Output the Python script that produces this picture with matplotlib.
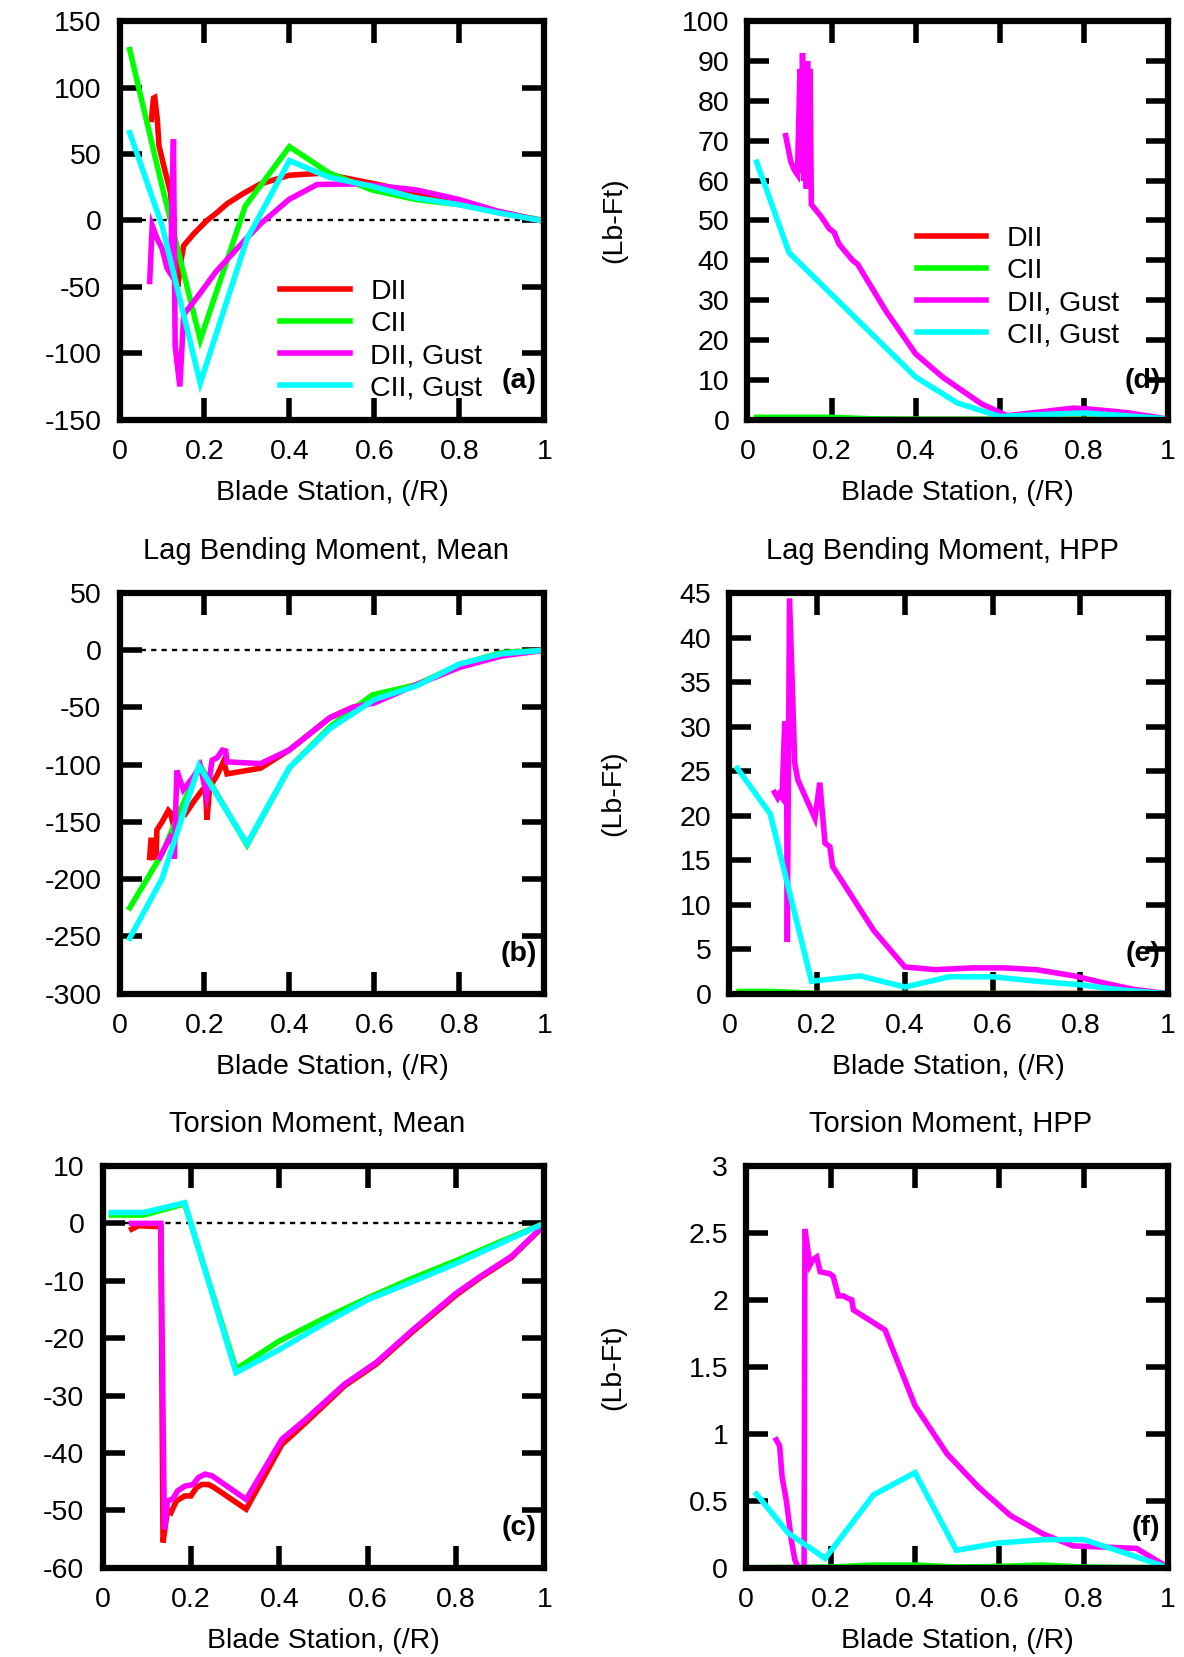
import matplotlib
matplotlib.use("Agg")
import matplotlib.pyplot as plt
from matplotlib.ticker import FuncFormatter

plt.rcParams['font.family'] = ['Liberation Sans', 'DejaVu Sans']
plt.rcParams['axes.unicode_minus'] = False

FS = 20.5
LW = 4.0
C_DII, C_CII, C_DIIG, C_CIIG = "#ff0000", "#00ff00", "#ff00ff", "#00ffff"
labels = ["DII", "CII", "DII, Gust", "CII, Gust"]

# =========================
# (a) flap bending moment, mean
# =========================
a_x_dii = [0.075, 0.080, 0.083, 0.089, 0.093, 0.105, 0.12, 0.13, 0.137, 0.145, 0.151, 0.175,
           0.206, 0.230, 0.253, 0.29, 0.332, 0.40, 0.475, 0.593, 0.697, 0.796, 0.89, 0.99]
a_y_dii = [76, 92, 92.5, 76, 56, 40, 21, -20, -50, -30, -19, -10,
           0, 6, 12.5, 20, 27.5, 34, 35.5, 28, 21, 13, 6, 0]
a_x_cii = [0.024, 0.10, 0.19, 0.296, 0.40, 0.493, 0.593, 0.697, 0.796, 0.89, 0.99]
a_y_cii = [128.5, 26, -90, 10.75, 55.5, 35.75, 23, 15.75, 12, 6.5, 0.5]
a_x_diig = [0.071, 0.077, 0.089, 0.10, 0.112, 0.12, 0.127, 0.131, 0.142, 0.151, 0.187,
            0.226, 0.28, 0.332, 0.40, 0.465, 0.566, 0.697, 0.796, 0.89, 0.99]
a_y_diig = [-46, -4, -14, -21, -36, -40, 61, -95, -125, -71, -56,
            -39, -20, -2.5, 16, 27, 27.5, 23, 16, 7, 0]
a_x_ciig = [0.024, 0.10, 0.19, 0.30, 0.40, 0.493, 0.593, 0.697, 0.796, 0.89, 0.99]
a_y_ciig = [66, -3.75, -122.5, -14, 45, 32.5, 25.75, 17, 12, 5.75, 0]

# =========================
# (b) lag bending moment, mean
# =========================
b_x_dii = [0.071, 0.074, 0.078, 0.080, 0.086, 0.088, 0.10, 0.115, 0.12, 0.125, 0.14, 0.155,
           0.175, 0.195, 0.202, 0.206, 0.212, 0.23, 0.245, 0.253, 0.332, 0.40, 0.495,
           0.548, 0.60, 0.70, 0.80, 0.90, 1.0]
b_y_dii = [-181, -166, -166, -181, -181, -157, -150, -140, -142, -150, -140, -143,
           -132, -122, -120, -148, -120, -109, -97, -108, -103, -87, -59,
           -50, -44, -30, -14, -4, 0]
b_x_cii = [0.024, 0.10, 0.151, 0.189, 0.30, 0.40, 0.495, 0.595, 0.70, 0.80, 0.90, 1.0]
b_y_cii = [-225, -178, -133, -100.4, -170, -102.5, -67, -39, -30, -12.5, -2, 0]
b_x_diig = [0.095, 0.11, 0.12, 0.125, 0.129, 0.135, 0.15, 0.175, 0.19, 0.205, 0.218,
            0.23, 0.242, 0.25, 0.253, 0.332, 0.40, 0.495, 0.548, 0.60, 0.70, 0.80, 0.90, 1.0]
b_y_diig = [-181, -170, -163, -165, -182, -105, -122, -110, -101, -127, -96,
            -93.8, -87.3, -88, -97.5, -99, -87, -59, -50, -46, -30, -15, -5, 0]
b_x_ciig = [0.024, 0.10, 0.187, 0.30, 0.40, 0.495, 0.60, 0.70, 0.80, 0.90, 1.0]
b_y_ciig = [-251.5, -199.6, -101, -169, -102.5, -68.5, -43, -31, -12, -3, 0]

# =========================
# (c) torsion moment, mean
# =========================
c_x_dii = [0.066, 0.082, 0.132, 0.137, 0.147, 0.155, 0.167, 0.186, 0.20, 0.213, 0.225, 0.24,
           0.252, 0.325, 0.406, 0.456, 0.548, 0.62, 0.70, 0.80, 0.852, 0.926, 1.0]
c_y_dii = [-1, -0.4, -0.6, -55.6, -50, -50.4, -48.4, -47.5, -47.5, -46, -45.5, -45.5,
           -46, -49.8, -38.5, -35, -28.3, -24.5, -19, -12.5, -9.6, -5.9, -0.3]
c_x_cii = [0.02, 0.093, 0.186, 0.302, 0.40, 0.50, 0.60, 0.70, 0.80, 0.90, 1.0]
c_y_cii = [1.45, 1.45, 3.4, -25.4, -20.5, -16.6, -13, -9.6, -6.5, -3.2, 0]
c_x_diig = [0.066, 0.132, 0.14, 0.147, 0.159, 0.17, 0.186, 0.205, 0.217, 0.232, 0.248,
            0.325, 0.406, 0.456, 0.548, 0.62, 0.70, 0.80, 0.852, 0.926, 1.0]
c_y_diig = [0, 0, -53.3, -48.4, -48, -46.6, -45.8, -45.5, -44.3, -43.7, -44,
            -48.1, -37.6, -34.4, -28, -24.2, -18.7, -12.2, -9.4, -5.7, -0.3]
c_x_ciig = [0.02, 0.093, 0.186, 0.302, 0.40, 0.50, 0.60, 0.70, 0.80, 0.90, 1.0]
c_y_ciig = [1.9, 1.9, 3.6, -26, -22, -17.5, -13.3, -10.2, -7, -3.5, 0]

# =========================
# (d) flap bending moment, HPP
# =========================
d_x_dii = [0.022, 0.2, 0.4, 0.6, 0.8, 1.0]
d_y_dii = [0.1, 0.1, 0.05, 0.05, 0.05, 0]
d_x_cii = [0.022, 0.1, 0.2, 0.3, 0.4, 0.6, 0.8, 1.0]
d_y_cii = [0.6, 0.6, 0.6, 0.2, 0.15, 0.1, 0.1, 0]
d_x_diig = [0.091, 0.103, 0.111, 0.119, 0.125, 0.128, 0.131, 0.134, 0.137, 0.140, 0.143,
            0.146, 0.149, 0.152, 0.175, 0.194, 0.206, 0.218, 0.25, 0.262, 0.329, 0.40,
            0.464, 0.556, 0.617, 0.70, 0.774, 0.80, 0.90, 0.997]
d_y_diig = [71.25, 64.8, 62.75, 61.5, 88, 62, 92, 60, 89, 58, 90,
            58, 88, 54, 51, 48, 47, 44, 40, 39, 27.3, 16.5,
            10.7, 4, 1, 2, 2.9, 2.8, 1.8, 0.2]
d_x_ciig = [0.022, 0.099, 0.40, 0.499, 0.60, 0.70, 0.80, 0.90, 0.997]
d_y_ciig = [64.6, 41.9, 10.7, 4.2, 0.8, 1.3, 1.7, 1.0, 0.2]

# =========================
# (e) lag bending moment, HPP
# =========================
e_x_dii = [0.022, 0.2, 0.4, 0.6, 0.8, 1.0]
e_y_dii = [0.02, 0.02, 0.02, 0.02, 0.02, 0]
e_x_cii = [0.022, 0.1, 0.2, 0.4, 0.6, 1.0]
e_y_cii = [0.25, 0.25, 0.02, 0.02, 0.02, 0]
e_x_diig = [0.103, 0.11, 0.114, 0.12, 0.126, 0.13, 0.132, 0.137, 0.149, 0.156, 0.195, 0.206,
            0.218, 0.229, 0.235, 0.329, 0.40, 0.47, 0.556, 0.624, 0.70, 0.786, 0.854, 0.92, 1.0]
e_y_diig = [22.6, 22, 22.4, 22, 30.3, 30.3, 5.8, 44.4, 25.9, 24, 19.7, 23.7,
            16.9, 16.5, 14.3, 7.1, 3.0, 2.7, 2.9, 2.9, 2.7, 2.0, 1.2, 0.5, 0]
e_x_ciig = [0.018, 0.093, 0.187, 0.298, 0.40, 0.501, 0.60, 0.70, 0.80, 0.896, 1.0]
e_y_ciig = [25.3, 20.2, 1.4, 2.0, 0.75, 1.9, 1.9, 1.4, 1.0, 0.4, 0]

# =========================
# (f) torsion moment, HPP
# =========================
f_x_dii = [0.07, 0.2, 0.4, 0.6, 0.8, 1.0]
f_y_dii = [0, 0, 0, 0, 0, 0]
f_x_cii = [0.022, 0.2, 0.3, 0.4, 0.5, 0.6, 0.7, 0.8, 1.0]
f_y_cii = [0.0, 0.005, 0.02, 0.02, 0.005, 0.01, 0.02, 0.005, 0]
f_x_diig = [0.071, 0.079, 0.085, 0.095, 0.107, 0.115, 0.123, 0.137, 0.139, 0.151, 0.158,
            0.167, 0.175, 0.198, 0.206, 0.218, 0.23, 0.242, 0.25, 0.254, 0.329, 0.40,
            0.476, 0.551, 0.626, 0.705, 0.775, 0.925, 0.996]
f_y_diig = [0.955, 0.91, 0.675, 0.5, 0.2, 0.06, 0.0, 0.0, 2.53, 2.26, 2.3,
            2.32, 2.21, 2.195, 2.175, 2.03, 2.03, 2.01, 2.0, 1.925, 1.775, 1.21,
            0.85, 0.6, 0.39, 0.25, 0.163, 0.144, 0.01]
f_x_ciig = [0.024, 0.099, 0.187, 0.302, 0.40, 0.498, 0.60, 0.705, 0.80, 0.907, 0.995]
f_y_ciig = [0.55, 0.26, 0.07, 0.545, 0.71, 0.13, 0.185, 0.21, 0.21, 0.1, 0.005]

W, H = 1184, 1657
fig = plt.figure(figsize=(W / 100, H / 100), dpi=100)


def box(left, right, top, bottom):
    return [left / W, 1 - bottom / H, (right - left) / W, (bottom - top) / H]


fmt = FuncFormatter(lambda v, p: "%g" % v)


def panel(rect, data, ylim, yticks, tag, title=None, zero=False, ylab_x=-0.285):
    ax = fig.add_axes(rect)
    cols = [C_DII, C_CII, C_DIIG, C_CIIG]
    for (x, y), c, lab in zip(data, cols, labels):
        ax.plot(x, y, color=c, lw=LW, label=lab, solid_joinstyle="miter")
    if zero:
        ax.axhline(0, color="black", lw=1.7, ls=(0, (2.2, 2.2)), zorder=1)
    ax.set_xlim(0, 1)
    ax.set_ylim(*ylim)
    ax.set_xticks([0, 0.2, 0.4, 0.6, 0.8, 1.0])
    ax.set_yticks(yticks)
    ax.xaxis.set_major_formatter(fmt)
    ax.yaxis.set_major_formatter(fmt)
    ax.tick_params(direction="in", length=16, width=4, top=True, right=True,
                   labelsize=FS)
    ax.tick_params(axis="x", pad=14)
    ax.tick_params(axis="y", pad=13)
    for s in ax.spines.values():
        s.set_linewidth(4.5)
    ax.set_xlabel("Blade Station, (/R)", fontsize=FS, labelpad=11)
    ax.set_ylabel("(Lb-Ft)", fontsize=FS)
    ax.yaxis.set_label_coords(ylab_x, 0.5)
    if title:
        ax.set_title(title, fontsize=FS + 0.5, x=0.485, y=1.104, va="center", pad=0)
    ax.text(0.982, 0.098, tag, transform=ax.transAxes, ha="right", va="center",
            fontsize=FS, fontweight="bold")
    return ax


leg_kw = dict(loc="upper left", frameon=False, fontsize=FS, handlelength=2.45,
              handletextpad=0.72, labelspacing=0.22, borderpad=0, borderaxespad=0)

ax_a = panel(box(119.5, 544.4, 21.1, 419.7),
             [(a_x_dii, a_y_dii), (a_x_cii, a_y_cii), (a_x_diig, a_y_diig), (a_x_ciig, a_y_ciig)],
             (-150, 150), range(-150, 151, 50), "(a)", zero=True)
ax_a.legend(bbox_to_anchor=(0.378, 0.354), **leg_kw)

ax_d = panel(box(747.4, 1168.1, 21.1, 419.7),
             [(d_x_dii, d_y_dii), (d_x_cii, d_y_cii), (d_x_diig, d_y_diig), (d_x_ciig, d_y_ciig)],
             (0, 100), range(0, 101, 10), "(d)")
ax_d.legend(bbox_to_anchor=(0.402, 0.487), **leg_kw)

panel(box(119.5, 544.4, 593.0, 993.7),
      [(b_x_dii, b_y_dii), (b_x_cii, b_y_cii), (b_x_diig, b_y_diig), (b_x_ciig, b_y_ciig)],
      (-300, 50), range(-300, 51, 50), "(b)", title="Lag Bending Moment, Mean", zero=True)

panel(box(729.4, 1168.1, 593.0, 993.7),
      [(e_x_dii, e_y_dii), (e_x_cii, e_y_cii), (e_x_diig, e_y_diig), (e_x_ciig, e_y_ciig)],
      (0, 45), range(0, 46, 5), "(e)", title="Lag Bending Moment, HPP", ylab_x=-0.236)

panel(box(102.5, 544.4, 1166.0, 1567.7),
      [(c_x_dii, c_y_dii), (c_x_cii, c_y_cii), (c_x_diig, c_y_diig), (c_x_ciig, c_y_ciig)],
      (-60, 10), range(-60, 11, 10), "(c)", title="Torsion Moment, Mean", zero=True,
      ylab_x=-0.24)

panel(box(746.3, 1168.1, 1166.0, 1567.7),
      [(f_x_dii, f_y_dii), (f_x_cii, f_y_cii), (f_x_diig, f_y_diig), (f_x_ciig, f_y_ciig)],
      (0, 3), [0, 0.5, 1, 1.5, 2, 2.5, 3], "(f)", title="Torsion Moment, HPP")

fig.savefig("out.png", dpi=100)
plt.close(fig)
